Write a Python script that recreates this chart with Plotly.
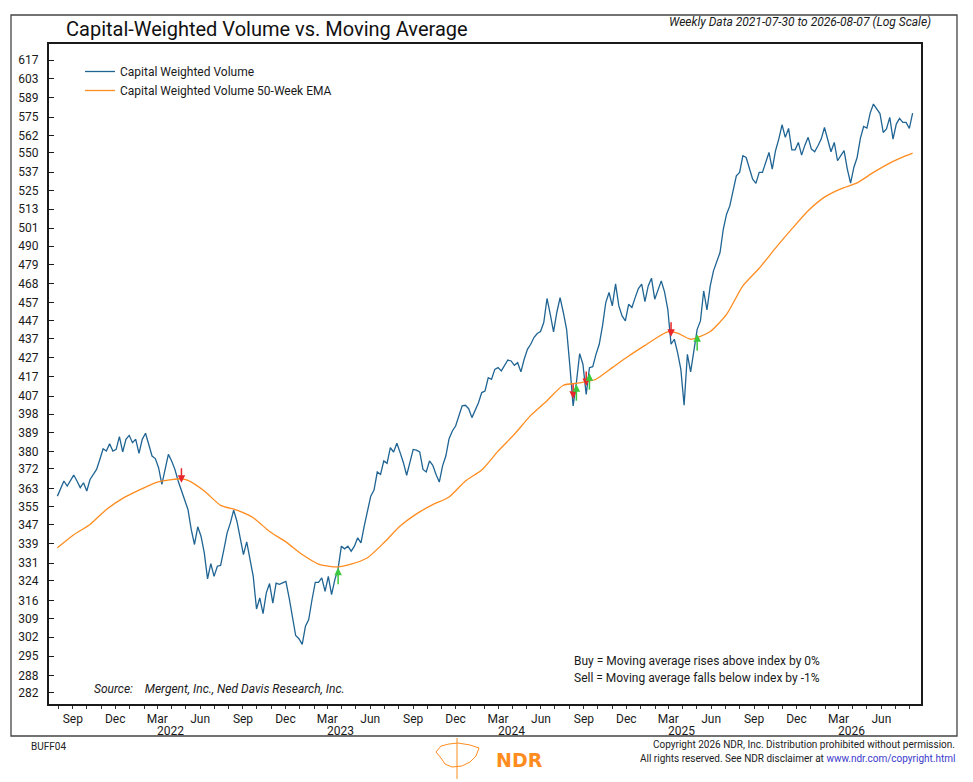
import numpy as np
import pandas as pd
import plotly.graph_objects as go

# weekly data, 2021-07-30 .. 2026-08-07
start = "2021-07-30"
cwv = [
    359.6, 363.4, 366.4, 364.1, 366.4, 369.1, 366.4, 363.4, 365.6, 361.9,
    367.1, 369.4, 371.7, 376.3, 381.3, 380.2, 383.7, 380.2, 381.0, 387.1,
    379.8, 385.8, 387.7, 384.2, 385.8, 379.1, 385.8, 388.7, 383.4, 377.9,
    376.7, 372.5, 364.9, 371.7, 378.7, 375.6, 371.7, 366.4, 361.9, 357.4,
    353.7, 345.1, 338.7, 346.2, 342.2, 335.2, 324.6, 330.8, 325.6, 329.7,
    330.0, 336.6, 343.6, 347.9, 353.4, 348.6, 342.2, 334.5, 339.8, 333.1,
    325.6, 312.7, 317.0, 310.9, 319.0, 322.7, 315.0, 322.9, 322.4, 323.0,
    323.6, 317.0, 309.9, 302.6, 301.4, 299.3, 306.1, 308.6, 316.3, 323.2,
    323.2, 325.0, 319.6, 325.6, 318.3, 324.3,
    328.7, 338.0, 336.9, 338.0, 335.9, 338.0, 341.5, 339.4, 346.5, 353.7,
    359.6, 362.3, 370.5, 369.4, 375.6, 374.5, 381.8, 379.8, 383.9, 379.5,
    374.8, 369.0, 374.8, 381.0, 380.7, 379.8, 371.7, 370.5, 375.6, 373.6,
    369.4, 365.9, 373.3, 377.9, 386.1, 389.8, 392.2, 397.1, 402.1, 402.4,
    400.7, 396.3, 399.6, 403.7, 408.8, 409.6, 416.4, 415.6, 420.7, 421.6,
    419.9, 422.8, 425.6, 425.1, 422.8, 424.2, 419.4, 426.0, 431.3, 434.0,
    437.6, 439.8, 440.9, 445.8, 459.3, 450.4, 440.7, 451.4, 459.8, 451.4,
    442.1, 422.5, 402.1, 413.9, 429.0, 423.4, 407.9, 421.6, 422.1, 428.6,
    434.0, 444.0, 457.0, 462.7, 455.1, 467.7, 455.1,
    449.5, 446.7, 456.0, 454.2, 459.8, 465.0, 467.5, 457.5, 466.5, 471.0,
    458.9, 464.6, 469.4, 463.1, 453.2, 434.0, 436.7, 429.5, 420.7, 402.4,
    428.6, 419.4, 431.3, 442.1, 446.7, 463.6, 452.8, 466.5,
    475.3, 481.2, 486.2, 500.4, 509.8, 515.1, 525.9, 534.6, 536.9, 548.1,
    546.9, 539.1, 532.4, 529.6, 536.9, 536.9, 543.1, 550.3, 539.1, 551.5,
    559.5, 569.5, 560.7, 566.9, 552.1, 552.1, 557.2, 548.5, 555.3, 560.7,
    552.6, 550.8, 554.9, 559.5, 567.6, 559.5, 550.8, 557.2, 544.7, 548.1,
    551.5, 539.1, 529.8, 540.2, 546.9, 560.0, 568.3, 567.2, 577.8, 584.3,
    580.7, 577.5, 564.1, 566.5, 574.7, 559.5, 570.0, 574.0, 571.2, 571.2,
    566.9, 577.8,
]

# 50-week EMA, read at selected weeks (week number from start)
ema_weeks = [0, 5, 10, 15, 20, 25, 30, 35, 38, 40, 45, 50, 55, 60, 65, 70, 75, 80, 85,
             90, 95, 100, 105, 110, 115, 120, 125, 130, 135, 140, 145, 150, 155, 160,
             165, 170, 175, 180, 185, 187, 190, 194, 200, 205, 210, 215, 220, 225,
             230, 235, 240, 245, 250, 255, 260, 262]
ema = [337.3, 342.8, 347.2, 353.7, 358.6, 362.3, 365.6, 367.0, 367.4, 366.7, 361.9,
       355.5, 353.4, 350.1, 344.2, 339.8, 334.5, 330.6, 329.4, 330.6, 333.2, 339.4,
       346.5, 351.8, 355.8, 359.2, 366.4, 371.4, 380.2, 388.2, 397.4, 404.7, 412.5,
       413.7, 415.6, 421.6, 427.7, 433.4, 439.0, 440.7, 440.0, 436.7, 440.9, 450.4,
       466.5, 476.8, 488.8, 500.6, 512.0, 520.7, 526.1, 530.0, 536.9, 543.1, 548.1,
       549.9]

# buy / sell signals (arrow tips)
sig_dates = ["2022-04-22", "2023-03-24", "2024-08-09", "2024-08-16",
             "2024-09-06", "2024-09-13", "2025-03-07", "2025-05-02"]
sig_values = [365.6, 329.1, 405.7, 413.0, 412.1, 418.7, 438.1, 439.4]
sig_kind = ["sell", "buy", "sell", "buy", "sell", "buy", "sell", "buy"]

y_ticks = [617, 603, 589, 575, 562, 550, 537, 525, 513, 501, 490, 479, 468, 457, 447,
           437, 427, 417, 407, 398, 389, 380, 372, 363, 355, 347, 339, 331, 324, 316,
           309, 302, 295, 288, 282]
x_ticks = pd.date_range("2021-09-01", "2026-06-01", freq="3MS")
x_labels = [d.strftime("%b") for d in x_ticks]
years = [2022, 2023, 2024, 2025, 2026]

dates = pd.date_range(start, periods=len(cwv), freq="7D")
ema_dates = pd.Timestamp(start) + pd.to_timedelta(np.array(ema_weeks) * 7, unit="D")

W, H = 973, 782
L, R, T, B = 49, 52, 44, 78
PW, PH = W - L - R, H - T - B


def px(x):
    return (x - L) / PW


def py(y):
    return (H - B - y) / PH


FONT = "Roboto"
BLUE = "#1f6493"
ORANGE = "#ff8c1f"

fig = go.Figure()
fig.add_trace(go.Scatter(x=dates, y=cwv, mode="lines", name="Capital Weighted Volume",
                         line=dict(color=BLUE, width=1.3)))
fig.add_trace(go.Scatter(x=ema_dates, y=ema, mode="lines",
                         name="Capital Weighted Volume 50-Week EMA",
                         line=dict(color=ORANGE, width=1.3, shape="spline", smoothing=0.6)))

for d, v, k in zip(sig_dates, sig_values, sig_kind):
    fig.add_annotation(x=d, y=np.log10(v), xref="x", yref="y", text="", showarrow=True,
                       ax=0, ay=-16 if k == "sell" else 18,
                       arrowcolor="#e8262b" if k == "sell" else "#3cc83c",
                       arrowwidth=1.5, arrowhead=2, arrowsize=1)

yr = [np.log10(278.0), np.log10(629.4)]
fig.update_layout(
    width=W, height=H, autosize=False,
    margin=dict(l=L, r=R, t=T, b=B),
    paper_bgcolor="white", plot_bgcolor="white",
    font=dict(family=FONT, size=12, color="#1a1a1a"),
    showlegend=True,
    legend=dict(x=px(80), y=py(57), xanchor="left", yanchor="top",
                bgcolor="rgba(0,0,0,0)", font=dict(size=12, color="#1a1a1a"),
                itemwidth=30, tracegroupgap=0),
    xaxis=dict(type="date", range=["2021-07-12", "2026-08-25"],
               tickvals=x_ticks, ticktext=x_labels, ticks="outside", ticklen=3,
               tickcolor="#333", showgrid=False, zeroline=False,
               showline=True, linecolor="#1a1a1a", linewidth=2, mirror=True,
               tickfont=dict(size=12, color="#1a1a1a"),
               minor=dict(dtick="M1", ticks="outside", ticklen=3, tickcolor="#333")),
    yaxis=dict(type="log", range=yr, tickvals=y_ticks, ticktext=[str(t) for t in y_ticks],
               ticks="inside", ticklen=5, tickcolor="#1a1a1a", showgrid=False,
               zeroline=False, showline=True, linecolor="#1a1a1a", linewidth=2,
               mirror=True, ticklabelstandoff=6, tickfont=dict(size=12, color="#1a1a1a")),
    yaxis2=dict(type="log", range=yr, overlaying="y", side="right", tickvals=y_ticks,
                ticktext=[str(t) for t in y_ticks], ticks="inside", ticklen=5,
                tickcolor="#1a1a1a", showgrid=False, zeroline=False, showline=False,
                ticklabelstandoff=5, tickfont=dict(size=12, color="#1a1a1a")),
)

# outer frame
fig.add_shape(type="rect", xref="paper", yref="paper", x0=px(11), x1=px(957),
              y0=py(736), y1=py(15), line=dict(color="#444", width=1.3))

fig.add_annotation(text="Capital-Weighted Volume vs. Moving Average", xref="paper", yref="paper",
                   x=px(64), y=py(29), xanchor="left", yanchor="middle", showarrow=False,
                   font=dict(size=20, color="#111"))
fig.add_annotation(text="<i>Weekly Data 2021-07-30 to 2026-08-07 (Log Scale)</i>",
                   xref="paper", yref="paper", x=px(933), y=py(22), xanchor="right",
                   yanchor="middle", showarrow=False, font=dict(size=12, color="#1a1a1a"))

for yv in years:
    fig.add_annotation(text=str(yv), xref="x", yref="paper", x=f"{yv}-03-29", y=py(731),
                       xanchor="center", yanchor="middle", showarrow=False,
                       font=dict(size=12, color="#1a1a1a"))

fig.add_annotation(text="<i>Source:\u00a0\u00a0\u00a0 Mergent, Inc., Ned Davis Research, Inc.</i>",
                   xref="paper", yref="paper", x=px(92), y=py(689), xanchor="left",
                   yanchor="middle", showarrow=False, font=dict(size=12, color="#1a1a1a"))
fig.add_annotation(text="Buy = Moving average rises above index by 0%", xref="paper",
                   yref="paper", x=px(572), y=py(661), xanchor="left", yanchor="middle",
                   showarrow=False, font=dict(size=12, color="#1a1a1a"))
fig.add_annotation(text="Sell = Moving average falls below index by -1%", xref="paper",
                   yref="paper", x=px(572), y=py(678), xanchor="left", yanchor="middle",
                   showarrow=False, font=dict(size=12, color="#1a1a1a"))

# footer
fig.add_annotation(text="BUFF04", xref="paper", yref="paper", x=px(29), y=py(746),
                   xanchor="left", yanchor="middle", showarrow=False,
                   font=dict(size=10, color="#222"))
fig.add_annotation(text="Copyright 2026 NDR, Inc. Distribution prohibited without permission.",
                   xref="paper", yref="paper", x=px(957), y=py(745), xanchor="right",
                   yanchor="middle", showarrow=False, font=dict(size=10, color="#222"))
fig.add_annotation(text="All rights reserved. See NDR disclaimer at "
                        "<span style='color:#3a3acc'>www.ndr.com/copyright.html</span>",
                   xref="paper", yref="paper", x=px(957), y=py(758), xanchor="right",
                   yanchor="middle", showarrow=False, font=dict(size=10, color="#222"))
fig.add_annotation(text="<b>NDR</b>", xref="paper", yref="paper", x=px(519), y=py(760),
                   xanchor="center", yanchor="middle", showarrow=False,
                   font=dict(family="DejaVu Sans", size=19, color=ORANGE))

# rough bull / bear mark
logo = [(436, 752), (441, 746), (449, 744), (458, 743), (470, 745), (479, 748),
        (476, 756), (470, 762), (462, 766), (452, 767), (445, 764), (441, 758)]
path = "M " + " L ".join(f"{px(a)} {py(b)}" for a, b in logo) + " Z"
fig.add_shape(type="path", xref="paper", yref="paper", path=path,
              line=dict(color=ORANGE, width=1))
fig.add_shape(type="line", xref="paper", yref="paper", x0=px(457), x1=px(457),
              y0=py(738), y1=py(779), line=dict(color=ORANGE, width=1))

fig.write_html("out.html", config={"displayModeBar": False},
               post_script="document.body.style.margin='0';")
